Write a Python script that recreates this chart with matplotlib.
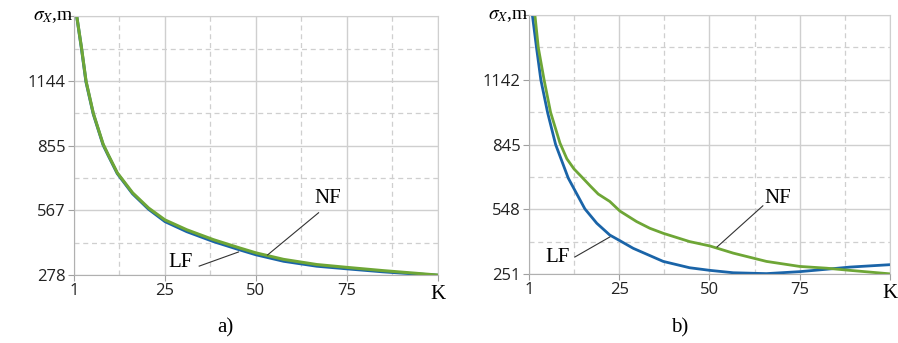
import matplotlib.pyplot as plt
from matplotlib.ticker import FixedLocator

# ---- data (x axis runs 0..100, first tick shown as "1")
# panel a)
k_a = [0.5, 2.1, 3.3, 5.3, 8.0, 9.4, 11.9, 16.1, 20.5, 25.0, 31.0, 38.3,
       45.7, 50.0, 57.6, 66.7, 75.2, 84.8, 94.0, 100.0]
nf_a = [1460, 1288, 1144, 1000, 862, 815, 734, 645, 577, 524, 480, 436,
        398, 377, 348, 325, 312, 298, 286, 278]
lf_a = [1460, 1284, 1140, 997, 859, 812, 731, 641, 572, 517, 472, 428,
        390, 369, 340, 318, 306, 293, 283, 277]

# panel b)
k_b_nf = [0.8, 1.7, 2.6, 4.2, 6.0, 8.6, 10.5, 12.5, 14.6, 17.0, 19.2, 22.4,
          25.2, 29.8, 33.5, 37.2, 44.5, 50.1, 56.6, 65.8, 75.0, 82.4, 88.9,
          100.0]
nf_b = [1470, 1433, 1290, 1142, 993, 852, 780, 733, 697, 655, 618, 584,
        540, 492, 461, 438, 400, 380, 347, 309, 286, 278, 268, 252]
k_b_lf = [0.6, 1.0, 2.1, 3.3, 5.2, 7.4, 10.9, 15.5, 18.8, 22.4, 25.2, 28.9,
          37.2, 44.5, 50.1, 56.6, 65.8, 75.0, 82.4, 88.9, 100.0]
lf_b = [1470, 1433, 1290, 1142, 990, 845, 691, 550, 484, 430, 404, 369,
        309, 280, 268, 257, 253, 262, 273, 283, 294]

yticks_a = [278, 567, 855, 1144]
yticks_b = [251, 548, 845, 1142]
xticks = [0, 25, 50, 75, 100]
xticklabels = ['1', '25', '50', '75', '']

BLUE = '#1a64a8'
GREEN = '#6ea636'
GRID = '#cfcfcf'

plt.rcParams['mathtext.fontset'] = 'stix'


def style_axes(ax, yticks):
    step = yticks[1] - yticks[0]
    ax.set_xlim(0, 100)
    ax.set_ylim(yticks[0], yticks[-1] + step)
    ax.xaxis.set_major_locator(FixedLocator(xticks))
    ax.set_xticklabels(xticklabels)
    ax.yaxis.set_major_locator(FixedLocator(yticks + [yticks[-1] + step]))
    ax.set_yticklabels([str(t) for t in yticks] + [''])
    ax.xaxis.set_minor_locator(FixedLocator([12.5, 37.5, 62.5, 87.5]))
    ax.yaxis.set_minor_locator(FixedLocator([t + step / 2 for t in yticks]))
    ax.grid(which='major', color=GRID, lw=1.0, ls='-')
    ax.grid(which='minor', color=GRID, lw=0.9, ls=(0, (4, 3)))
    ax.set_axisbelow(True)
    for s in ax.spines.values():
        s.set_color(GRID)
    ax.spines['left'].set_color('#b0b0b0')
    ax.spines['bottom'].set_color('#b0b0b0')
    ax.tick_params(which='major', length=4, color='#a0a0a0',
                   labelsize=12, labelcolor='#222222', pad=2)
    ax.tick_params(which='minor', length=0)
    for lab in ax.get_xticklabels() + ax.get_yticklabels():
        lab.set_family('Open Sans')
    ax.text(0.0, 1.0, r'$\sigma_X$,m', transform=ax.transAxes, ha='right',
            va='center', fontsize=14, family='Liberation Serif')
    ax.text(1.0, -0.075, 'K', transform=ax.transAxes, ha='center', va='center',
            fontsize=15, family='Liberation Serif')


def label(ax, text, txy, start, end):
    ax.text(txy[0], txy[1], text, fontsize=15, family='Liberation Serif',
            ha='center', va='center')
    ax.plot([start[0], end[0]], [start[1], end[1]], color='#333333', lw=0.8)


fig = plt.figure(figsize=(8.98, 3.43), dpi=100)
ax1 = fig.add_axes([0.0824, 0.198, 0.4053, 0.755])
ax2 = fig.add_axes([0.589, 0.201, 0.402, 0.755])

ax1.plot(k_a, lf_a, color=BLUE, lw=2.2)
ax1.plot(k_a, nf_a, color=GREEN, lw=2.2)
style_axes(ax1, yticks_a)
label(ax1, 'LF', (29.2, 332), (34.4, 318), (45.2, 381))
label(ax1, 'NF', (69.7, 618), (67.2, 556), (53.2, 368))

ax2.plot(k_b_lf, lf_b, color=BLUE, lw=2.0)
ax2.plot(k_b_nf, nf_b, color=GREEN, lw=2.0)
style_axes(ax2, yticks_b)
label(ax2, 'LF', (7.8, 329), (12.7, 329), (22.4, 421))
label(ax2, 'NF', (69.0, 596), (64.8, 564), (52.1, 375))

fig.text(225 / 898, 1 - 328 / 343, 'a)', ha='center', va='center',
         fontsize=15, family='Liberation Serif')
fig.text(680 / 898, 1 - 328 / 343, 'b)', ha='center', va='center',
         fontsize=15, family='Liberation Serif')

fig.savefig('out.png', dpi=100)
